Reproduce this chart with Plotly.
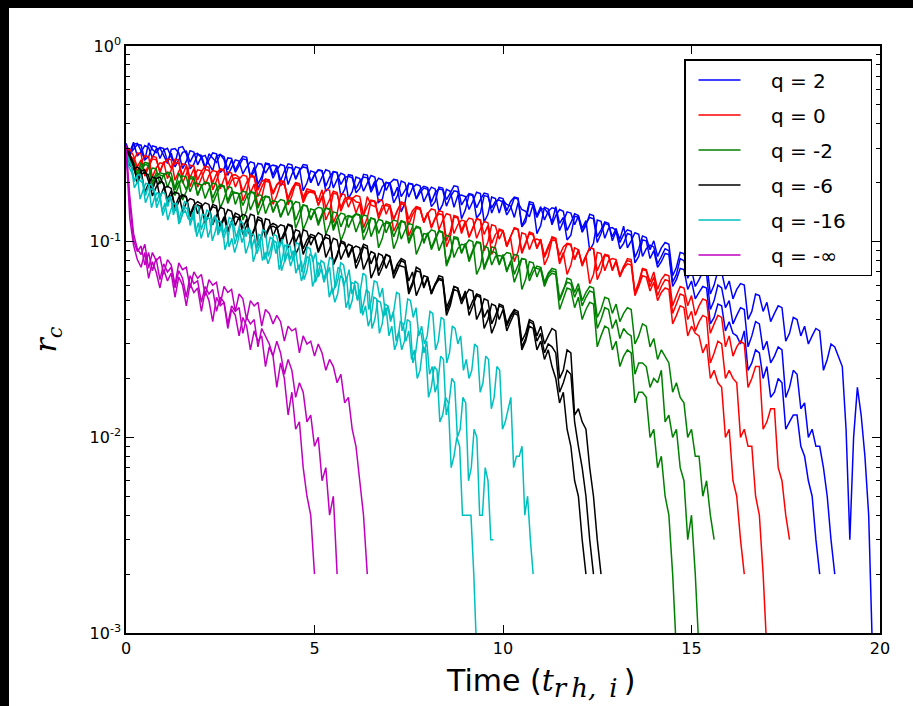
import numpy as np
import plotly.graph_objects as go

# ---------------- data (r_c in units of 1e-3) ----------------
Q_LABELS = ["q = 2", "q = 0", "q = -2", "q = -6", "q = -16", "q = -\u221e"]
COLORS = ["#0000ff", "#ff0000", "#008000", "#000000", "#00bfbf", "#bf00bf"]

# end time (t_rh,i) of each of the three runs per q
BLUE_END = [18.4, 18.8, 19.8]
RED_END = [16.4, 17.0, 17.6]
GREEN_END = [14.6, 15.2, 15.6]
BLACK_END = [12.2, 12.4, 12.6]
CYAN_END = [9.3, 9.75, 10.8]
MAGENTA_END = [5.0, 5.6, 6.4]

BLUE_1 = [318, 283, 296, 314, 311, 262, 272, 309, 305, 266, 294, 300, 270, 251, 302, 306, 281, 236, 249, 279,
          276, 240, 262, 284, 281, 226, 236, 268, 266, 232, 255, 273, 270, 214, 228, 251, 249, 224, 241, 246,
          243, 193, 205, 240, 238, 210, 229, 248, 246, 200, 219, 233, 231, 181, 190, 228, 225, 196, 213, 216,
          212, 178, 187, 221, 219, 185, 204, 159, 165, 201, 199, 208, 206, 170, 183, 198, 196, 165, 178, 188,
          185, 151, 160, 190, 188, 164, 177, 193, 191, 154, 166, 176, 174, 132, 140, 172, 170, 149, 161, 163,
          159, 137, 148, 167, 165, 119, 126, 156, 154, 133, 146, 148, 139, 126, 151, 124, 133, 102, 108, 135,
          133, 112, 121, 138, 136, 106, 115, 126, 124, 101, 113, 92, 98, 110, 108, 78, 84, 102, 101, 82,
          90, 74, 79, 87, 86, 59, 64, 73, 72, 57, 63, 51, 55, 59, 58, 38, 41, 48, 47, 35,
          39, 34, 33, 30, 35, 22, 24, 28, 27, 20, 23, 16, 17, 20, 19, 11, 12, 13, 13, 9,
          8, 6, 5, 3, 2]
BLUE_2 = [309, 286, 322, 274, 288, 310, 303, 268, 297, 301, 276, 251, 296, 299, 284, 236, 258, 292, 287, 247,
          271, 276, 249, 231, 274, 279, 263, 218, 239, 262, 258, 222, 241, 256, 252, 197, 215, 250, 246, 211,
          232, 248, 244, 196, 221, 241, 238, 182, 200, 230, 226, 193, 214, 233, 229, 188, 208, 224, 219, 166,
          180, 214, 210, 181, 199, 218, 214, 172, 191, 201, 197, 158, 172, 204, 200, 169, 188, 196, 193, 160,
          176, 190, 186, 142, 155, 185, 181, 150, 172, 173, 170, 146, 161, 179, 176, 126, 138, 169, 166, 140,
          163, 155, 152, 133, 158, 146, 143, 134, 155, 110, 121, 150, 147, 122, 136, 146, 143, 114, 125, 139,
          136, 117, 128, 90, 98, 129, 127, 104, 117, 118, 114, 103, 120, 93, 101, 111, 109, 84, 92, 96,
          94, 77, 84, 92, 90, 62, 68, 82, 80, 65, 72, 59, 64, 70, 68, 45, 50, 60, 58, 46,
          50, 38, 42, 46, 45, 29, 33, 39, 38, 28, 31, 24, 26, 29, 28, 16, 18, 22, 21, 14,
          15, 10, 11, 9, 9, 7, 5, 3, 2]
BLUE_3 = [300, 271, 314, 318, 291, 262, 320, 296, 285, 303, 299, 258, 283, 241, 262, 286, 290, 255, 279, 283,
          268, 236, 281, 267, 254, 279, 272, 233, 261, 226, 247, 265, 262, 214, 240, 188, 204, 252, 250, 219,
          243, 205, 229, 250, 247, 208, 232, 241, 238, 201, 221, 232, 230, 192, 214, 228, 226, 170, 185, 220,
          218, 186, 203, 214, 212, 179, 196, 211, 207, 183, 201, 171, 190, 142, 158, 199, 197, 166, 185, 192,
          189, 159, 178, 186, 184, 152, 169, 182, 180, 131, 145, 174, 172, 149, 164, 177, 175, 140, 156, 168,
          166, 144, 160, 169, 167, 120, 133, 160, 158, 136, 151, 129, 143, 149, 147, 114, 127, 142, 140, 122,
          135, 112, 124, 133, 131, 99, 110, 124, 122, 106, 117, 99, 109, 115, 113, 83, 92, 107, 105, 91,
          101, 84, 93, 99, 97, 67, 74, 88, 87, 73, 81, 67, 74, 79, 78, 54, 60, 71, 70, 57,
          63, 51, 57, 61, 60, 40, 44, 54, 53, 44, 49, 39, 43, 47, 46, 31, 34, 41, 40, 33,
          37, 30, 33, 36, 35, 22, 25, 30, 29, 26, 23, 11, 3, 10, 18, 13, 8, 4, 0.8]

RED_1 = [298, 266, 258, 284, 281, 216, 240, 265, 262, 228, 255, 259, 237, 264, 261, 199, 221, 246, 243, 207,
         228, 243, 240, 184, 205, 234, 231, 196, 218, 220, 213, 162, 180, 219, 216, 183, 203, 209, 207, 178,
         196, 205, 203, 154, 171, 200, 198, 168, 186, 184, 181, 153, 170, 185, 183, 125, 139, 176, 174, 150,
         167, 160, 158, 136, 170, 154, 151, 164, 162, 138, 153, 113, 125, 159, 157, 130, 144, 151, 149, 126,
         140, 119, 132, 144, 142, 101, 112, 136, 134, 114, 127, 106, 118, 131, 129, 109, 121, 86, 96, 116,
         114, 95, 106, 118, 116, 89, 99, 112, 110, 93, 103, 76, 84, 102, 101, 85, 94, 98, 97, 81,
         90, 77, 85, 93, 92, 64, 71, 85, 84, 71, 79, 66, 73, 77, 76, 53, 59, 67, 66, 56,
         62, 50, 55, 58, 57, 38, 42, 47, 46, 33, 37, 34, 33, 27, 30, 20, 22, 19, 18, 10,
         11, 6, 5, 3, 2]
RED_2 = [305, 274, 266, 229, 251, 275, 272, 214, 238, 253, 250, 265, 262, 206, 229, 250, 247, 212, 236, 190,
         211, 234, 231, 200, 222, 236, 233, 185, 206, 212, 209, 219, 216, 177, 197, 151, 168, 204, 201, 175,
         194, 203, 200, 164, 182, 196, 193, 158, 175, 182, 180, 154, 171, 129, 143, 177, 175, 149, 166, 169,
         166, 172, 170, 137, 152, 163, 161, 131, 146, 156, 154, 130, 144, 159, 157, 107, 119, 150, 148, 125,
         139, 147, 145, 115, 128, 139, 137, 110, 122, 129, 127, 105, 117, 131, 129, 90, 100, 122, 120, 103,
         114, 95, 106, 117, 115, 87, 97, 110, 108, 92, 102, 83, 92, 106, 104, 79, 88, 68, 76, 93,
         91, 76, 84, 93, 92, 71, 79, 86, 85, 72, 80, 67, 74, 82, 81, 54, 60, 72, 71, 59,
         66, 53, 59, 64, 63, 43, 48, 54, 53, 40, 44, 35, 39, 42, 41, 24, 27, 31, 30, 20,
         22, 20, 19, 10, 11, 9, 9, 5, 4, 2, 0.8]
RED_3 = [293, 297, 275, 241, 262, 222, 247, 273, 270, 225, 256, 210, 233, 254, 251, 218, 245, 191, 214, 233,
         230, 195, 218, 231, 228, 186, 209, 227, 224, 190, 210, 180, 201, 216, 213, 170, 190, 208, 205, 155,
         172, 198, 195, 167, 187, 200, 197, 161, 181, 179, 177, 162, 184, 149, 166, 181, 178, 143, 160, 166,
         164, 140, 157, 118, 132, 162, 160, 136, 153, 153, 151, 130, 145, 156, 154, 122, 137, 148, 146, 127,
         141, 117, 131, 139, 137, 94, 105, 134, 132, 110, 124, 132, 130, 104, 116, 127, 125, 98, 109, 114,
         113, 94, 105, 79, 89, 111, 109, 91, 102, 103, 101, 85, 95, 104, 103, 77, 86, 97, 96, 81,
         91, 75, 84, 61, 68, 88, 87, 71, 80, 82, 81, 67, 75, 80, 79, 55, 62, 73, 72, 62,
         70, 57, 64, 68, 67, 47, 53, 59, 58, 47, 53, 42, 47, 51, 50, 34, 38, 42, 41, 29,
         33, 26, 29, 31, 30, 18, 20, 23, 23, 11, 12, 14, 14, 7, 6, 4, 3]

GREEN_1 = [293, 258, 247, 221, 254, 224, 219, 238, 236, 197, 221, 225, 209, 187, 224, 201, 184, 215, 213, 172,
           193, 200, 198, 157, 176, 193, 191, 162, 181, 178, 175, 129, 144, 179, 177, 148, 166, 171, 169, 141,
           158, 134, 150, 162, 160, 117, 131, 154, 152, 129, 144, 121, 136, 148, 146, 114, 128, 101, 113, 135,
           133, 112, 126, 137, 135, 106, 119, 130, 128, 111, 124, 92, 103, 127, 125, 101, 113, 118, 117, 98,
           110, 91, 102, 113, 111, 77, 86, 104, 103, 87, 97, 79, 89, 99, 98, 72, 81, 89, 88, 76,
           85, 70, 79, 62, 70, 82, 81, 66, 74, 73, 72, 59, 66, 69, 68, 45, 51, 58, 57, 46,
           52, 40, 45, 49, 48, 29, 33, 37, 36, 28, 31, 23, 26, 28, 27, 15, 17, 17, 16, 10,
           11, 7, 8, 5, 4, 2, 0.8]
GREEN_2 = [300, 266, 252, 214, 240, 254, 251, 193, 216, 225, 222, 189, 212, 172, 193, 217, 214, 180, 201, 198,
           195, 166, 186, 199, 197, 148, 165, 191, 189, 155, 174, 181, 179, 145, 162, 174, 172, 139, 156, 162,
           160, 133, 149, 163, 161, 129, 144, 154, 152, 130, 145, 150, 148, 109, 122, 142, 140, 119, 133, 136,
           134, 139, 137, 111, 124, 132, 130, 93, 104, 127, 125, 106, 118, 128, 126, 98, 109, 120, 118, 100,
           111, 93, 104, 114, 112, 75, 84, 106, 105, 88, 98, 81, 91, 100, 99, 74, 83, 94, 93, 77,
           86, 71, 79, 86, 85, 57, 64, 79, 78, 66, 74, 60, 68, 71, 70, 51, 57, 62, 61, 52,
           58, 47, 52, 56, 55, 36, 40, 46, 45, 36, 40, 32, 36, 34, 33, 21, 24, 24, 23, 18,
           20, 19, 22, 12, 13, 10, 11, 7, 6, 3, 4, 2, 0.8]
GREEN_3 = [288, 271, 255, 206, 231, 248, 245, 201, 224, 219, 216, 227, 224, 184, 205, 163, 181, 211, 208, 173,
           192, 202, 199, 167, 186, 196, 193, 157, 174, 178, 176, 153, 170, 180, 178, 137, 152, 170, 168, 142,
           157, 164, 162, 136, 151, 160, 158, 115, 128, 147, 145, 125, 139, 149, 147, 118, 131, 140, 138, 118,
           131, 138, 136, 102, 113, 132, 130, 110, 122, 125, 123, 129, 127, 103, 114, 124, 122, 86, 96, 110,
           109, 115, 113, 90, 100, 108, 106, 83, 92, 97, 96, 102, 100, 68, 75, 95, 93, 76, 84, 85,
           84, 88, 87, 68, 76, 82, 81, 63, 70, 75, 74, 62, 69, 73, 72, 50, 56, 65, 64, 55,
           61, 50, 55, 59, 58, 41, 45, 52, 51, 43, 48, 39, 43, 46, 45, 30, 33, 38, 37, 29,
           32, 25, 28, 26, 24, 17, 19, 16, 15, 10, 11, 8, 8, 5, 6, 4, 3]

BLACK_1 = [305, 268, 241, 206, 229, 233, 203, 183, 210, 214, 195, 158, 172, 179, 176, 142, 158, 166, 163, 139,
           154, 124, 138, 155, 152, 118, 131, 146, 143, 121, 134, 109, 121, 138, 136, 96, 107, 131, 129, 107,
           119, 101, 112, 123, 121, 86, 95, 115, 113, 96, 106, 88, 98, 109, 107, 76, 84, 101, 99, 85,
           94, 78, 87, 97, 95, 65, 72, 87, 85, 73, 81, 68, 76, 75, 74, 54, 60, 71, 70, 58,
           65, 54, 60, 67, 66, 44, 49, 59, 58, 50, 55, 45, 50, 54, 53, 36, 40, 48, 47, 40,
           45, 35, 39, 43, 42, 28, 31, 37, 36, 28, 31, 25, 28, 23, 20, 15, 17, 11, 9, 6,
           5, 3, 2]
BLACK_2 = [298, 281, 250, 199, 221, 226, 218, 171, 190, 203, 199, 164, 182, 151, 168, 174, 170, 134, 149, 154,
           151, 158, 155, 122, 136, 150, 147, 114, 127, 140, 137, 117, 130, 104, 116, 134, 131, 108, 120, 124,
           121, 97, 108, 122, 119, 99, 110, 86, 96, 106, 104, 111, 108, 83, 92, 104, 102, 81, 90, 97,
           95, 73, 81, 94, 92, 77, 86, 71, 79, 86, 84, 69, 77, 82, 80, 56, 62, 74, 72, 59,
           66, 54, 60, 64, 63, 42, 47, 57, 56, 48, 53, 57, 56, 40, 44, 51, 50, 38, 42, 47,
           46, 37, 41, 44, 43, 29, 32, 39, 38, 31, 34, 27, 30, 29, 27, 17, 19, 22, 21, 12,
           9, 7, 5, 3, 2]
BLACK_3 = [302, 246, 234, 241, 231, 179, 199, 214, 210, 169, 188, 192, 187, 144, 160, 172, 169, 138, 154, 160,
           156, 126, 140, 151, 148, 121, 134, 112, 125, 135, 132, 138, 135, 103, 114, 130, 127, 105, 117, 120,
           117, 122, 120, 93, 103, 115, 113, 92, 102, 109, 107, 90, 100, 105, 103, 77, 86, 99, 97, 83,
           92, 95, 93, 72, 80, 89, 87, 67, 74, 86, 84, 65, 72, 80, 78, 63, 70, 53, 59, 67,
           66, 55, 61, 65, 64, 46, 51, 59, 58, 50, 56, 42, 47, 53, 52, 41, 45, 34, 38, 48,
           47, 38, 42, 45, 44, 31, 34, 40, 39, 33, 37, 30, 33, 36, 35, 20, 22, 28, 27, 13,
           14, 12, 11, 7, 5, 3, 2]

CYAN_1 = [284, 241, 226, 203, 217, 165, 183, 199, 196, 149, 166, 178, 175, 136, 151, 167, 164, 142, 158, 125,
          139, 144, 131, 128, 142, 106, 118, 138, 136, 105, 117, 133, 130, 111, 124, 91, 101, 126, 123, 105,
          117, 99, 110, 116, 114, 79, 88, 109, 107, 81, 90, 105, 103, 87, 97, 71, 79, 97, 95, 80,
          89, 72, 80, 64, 71, 86, 84, 62, 69, 80, 78, 67, 74, 54, 60, 74, 72, 59, 66, 45,
          50, 63, 61, 43, 48, 57, 55, 36, 40, 50, 49, 41, 46, 33, 37, 28, 31, 39, 38, 31,
          35, 25, 28, 20, 22, 29, 28, 16, 18, 23, 22, 12, 13, 16, 15, 7, 8, 10, 9, 4,
          4, 4, 4, 2, 0.8]
CYAN_2 = [276, 262, 240, 188, 201, 206, 199, 158, 172, 187, 184, 160, 176, 142, 158, 129, 144, 157, 155, 123,
          135, 150, 147, 127, 141, 112, 125, 104, 116, 133, 131, 101, 112, 128, 126, 110, 121, 94, 104, 88,
          98, 115, 113, 87, 96, 110, 108, 93, 103, 80, 88, 77, 85, 101, 99, 72, 80, 96, 94, 81,
          90, 69, 76, 63, 70, 84, 82, 59, 65, 78, 76, 64, 71, 52, 58, 49, 54, 67, 65, 46,
          51, 62, 61, 51, 57, 42, 47, 37, 41, 52, 51, 34, 38, 48, 47, 39, 44, 31, 35, 28,
          31, 40, 39, 24, 27, 35, 34, 27, 31, 21, 23, 17, 19, 26, 25, 13, 15, 20, 19, 10,
          11, 16, 15, 6, 7, 11, 10, 4, 4, 7, 6, 3, 3]
CYAN_3 = [287, 266, 243, 205, 218, 221, 203, 172, 192, 197, 186, 149, 165, 179, 176, 151, 171, 137, 153, 130,
          145, 160, 157, 121, 134, 153, 150, 115, 128, 145, 142, 123, 137, 108, 120, 104, 115, 133, 130, 97,
          108, 127, 124, 106, 118, 92, 103, 87, 97, 115, 113, 84, 93, 109, 107, 93, 103, 79, 88, 75,
          83, 99, 97, 70, 78, 94, 92, 79, 88, 66, 73, 62, 69, 83, 81, 58, 64, 78, 76, 63,
          72, 54, 60, 50, 56, 69, 67, 45, 50, 63, 62, 52, 58, 42, 47, 40, 44, 55, 54, 35,
          39, 51, 50, 41, 46, 33, 37, 30, 33, 44, 43, 28, 31, 41, 40, 24, 27, 37, 36, 30,
          33, 22, 25, 20, 22, 30, 29, 17, 19, 26, 25, 14, 16, 23, 22, 11, 12, 14, 16, 7,
          8, 8, 9, 4, 5, 3, 2]

MAGENTA_1 = [300, 132, 96, 81, 74, 88, 65, 79, 70, 58, 72, 63, 69, 52, 66, 60, 47, 61, 55, 58,
             44, 56, 50, 39, 52, 47, 49, 36, 45, 42, 33, 41, 37, 28, 35, 31, 33, 23, 29, 26,
             18, 24, 20, 13, 17, 11, 12, 7, 5, 4, 2]
MAGENTA_2 = [310, 158, 102, 89, 95, 76, 88, 71, 82, 64, 77, 70, 74, 58, 71, 65, 52, 67, 61, 63,
             49, 59, 54, 57, 44, 52, 49, 38, 47, 44, 46, 34, 41, 38, 40, 29, 36, 33, 30, 26,
             31, 27, 21, 25, 22, 16, 19, 17, 12, 13, 9, 10, 6, 7, 4, 5, 2]
MAGENTA_3 = [295, 170, 110, 92, 86, 97, 73, 88, 80, 84, 68, 81, 76, 60, 78, 72, 74, 58, 70, 65,
             68, 53, 64, 60, 62, 48, 59, 55, 57, 44, 54, 51, 40, 50, 47, 49, 37, 45, 43, 38,
             42, 39, 31, 37, 35, 36, 27, 33, 30, 31, 26, 30, 27, 22, 25, 23, 19, 21, 15, 16,
             11, 9, 6, 4, 2]

GROUPS = [
    (BLUE_END, [BLUE_1, BLUE_2, BLUE_3]),
    (RED_END, [RED_1, RED_2, RED_3]),
    (GREEN_END, [GREEN_1, GREEN_2, GREEN_3]),
    (BLACK_END, [BLACK_1, BLACK_2, BLACK_3]),
    (CYAN_END, [CYAN_1, CYAN_2, CYAN_3]),
    (MAGENTA_END, [MAGENTA_1, MAGENTA_2, MAGENTA_3]),
]

Y_TICKVALS = [1e-3, 1e-2, 1e-1, 1e0]
Y_TICKTEXT = ["10<sup>-3</sup>", "10<sup>-2</sup>", "10<sup>-1</sup>", "10<sup>0</sup>"]
Y_MINOR = [k * 10.0 ** e for e in (-3, -2, -1) for k in range(2, 10)]
X_TICKVALS = [0, 5, 10, 15, 20]

# ---------------- figure ----------------
NB = "\u00a0"
fig = go.Figure()
for gi, (ends, runs) in enumerate(GROUPS):
    for ri, (t_end, vals) in enumerate(zip(ends, runs)):
        t = np.linspace(0.0, t_end, len(vals))  # sample times of the run
        fig.add_trace(go.Scatter(
            x=t, y=np.array(vals, dtype=float) / 1000.0,
            mode="lines",
            line=dict(color=COLORS[gi], width=1.5),
            name=NB * 4 + Q_LABELS[gi] + NB * 3,
            legendgroup=Q_LABELS[gi],
            showlegend=(ri == 0),
        ))

L, R, T, B = 126, 33, 46, 73
W, H = 913, 706
pw, ph = W - L - R, H - T - B

def px_x(px):
    return (px - L) / pw

def px_y(py):
    return (H - B - py) / ph

fig.update_layout(
    width=W, height=H,
    margin=dict(l=L, r=R, t=T, b=B, pad=0),
    paper_bgcolor="white", plot_bgcolor="white",
    font=dict(family="DejaVu Sans", color="black"),
    showlegend=True,
    legend=dict(
        x=px_x(872), xanchor="right",
        y=px_y(59), yanchor="top",
        bgcolor="white", bordercolor="black", borderwidth=1.5,
        font=dict(family="DejaVu Sans", size=20, color="black"),
        tracegroupgap=6, itemwidth=42, indentation=8,
    ),
    xaxis=dict(
        range=[0, 20], tickvals=X_TICKVALS, ticks="inside", ticklen=8, tickwidth=1,
        tickcolor="black", mirror="allticks", showline=True, linecolor="black",
        linewidth=1.5, showgrid=False, zeroline=False,
        tickfont=dict(size=16, family="DejaVu Sans", color="black"),
    ),
    yaxis=dict(
        type="log", range=[-3, 0], tickvals=Y_TICKVALS, ticktext=Y_TICKTEXT,
        ticks="inside", ticklen=8, tickwidth=1, tickcolor="black",
        minor=dict(tickvals=Y_MINOR, ticks="inside", ticklen=4, tickcolor="black", showgrid=False),
        mirror="allticks", showline=True, linecolor="black", linewidth=1.5,
        showgrid=False, zeroline=False,
        tickfont=dict(size=16, family="DejaVu Sans", color="black"),
        title=dict(text="<i>r</i><sub><i>c</i></sub>",
                   font=dict(size=30, family="DejaVu Serif", color="black"), standoff=24),
    ),
    annotations=[
        dict(
            text=("Time (<span style='font-family:DejaVu Serif'><i>t</i><sub>"
                  "<span style='font-size:26px'><i>r\u2009h,\u2002i</i></span></sub></span>\u2009)"),
            xref="paper", yref="paper", x=px_x(540), y=px_y(683),
            xanchor="center", yanchor="middle", showarrow=False,
            font=dict(size=30, family="DejaVu Sans", color="black"),
        ),
    ],
    shapes=[
        dict(type="rect", xref="paper", yref="paper", layer="above",
             x0=-0.3, x1=1.2, y0=px_y(8), y1=1.3,
             fillcolor="black", line=dict(width=0)),
        dict(type="rect", xref="paper", yref="paper", layer="above",
             x0=-0.3, x1=px_x(9), y0=-0.3, y1=1.3,
             fillcolor="black", line=dict(width=0)),
    ],
)

fig.write_html(
    "out.html",
    config={"displayModeBar": False},
    post_script="document.body.style.margin='0';document.body.style.overflow='hidden';",
)
